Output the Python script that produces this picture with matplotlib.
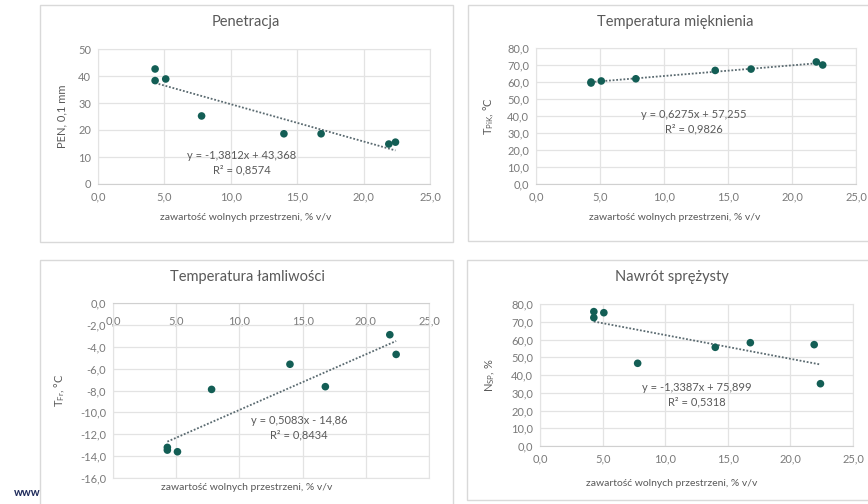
import matplotlib
matplotlib.use("Agg")
import matplotlib.pyplot as plt
from matplotlib.patches import Rectangle
from matplotlib.ticker import FuncFormatter, MultipleLocator
import numpy as np

plt.rcParams['font.family'] = ['Lato', 'DejaVu Sans']

# ---- data ----
void_content = [4.3, 4.3, 5.1, 7.8, 14.0, 16.8, 21.9, 22.4]
penetration = [42.6, 38.3, 38.9, 25.2, 18.6, 18.6, 14.8, 15.5]
softening_temp = [59.4, 60.0, 60.6, 61.9, 66.8, 67.6, 71.8, 70.0]
fraass_temp = [-13.2, -13.45, -13.6, -7.9, -5.6, -7.65, -2.9, -4.7]
elastic_recovery = [75.7, 72.3, 75.1, 46.6, 55.6, 58.2, 57.1, 35.1]

titles = ["Penetracja", "Temperatura mięknienia", "Temperatura łamliwości", "Nawrót sprężysty"]
ylabels = ["PEN, 0,1 mm", r"T$_\mathregular{PiK}$, °C", r"T$_\mathregular{Fr}$, °C", r"N$_\mathregular{SP}$, %"]
xlabel = "zawartość wolnych przestrzeni, % v/v"
trend_slopes = [-1.3812, 0.6275, 0.5083, -1.3387]
trend_intercepts = [43.368, 57.255, -14.86, 75.899]
equations = ["y = -1,3812x + 43,368", "y = 0,6275x + 57,255", "y = 0,5083x - 14,86", "y = -1,3387x + 75,899"]
r2_labels = ["R² = 0,8574", "R² = 0,9826", "R² = 0,8434", "R² = 0,5318"]

W, H = 868, 504
fig = plt.figure(figsize=(W / 100, H / 100), dpi=100)
fig.patch.set_facecolor("white")

def frect(l, t, r, b):
    return [l / W, 1 - b / H, (r - l) / W, (b - t) / H]

# "www" text partly hidden behind panel
fig.text(14 / W, 1 - 492 / H, "www.", fontsize=8, color="#1f2b5b", fontweight="bold",
         va="center", ha="left", zorder=0)

# panel frames (pixels: l, t, r, b)
frames = [(40, 5, 453, 242), (468, 5, 875, 241), (40, 260, 453, 510), (467, 260, 875, 500)]
for (l, t, r, b) in frames:
    fig.patches.append(Rectangle((l / W, 1 - b / H), (r - l) / W, (b - t) / H,
                                 transform=fig.transFigure, facecolor="white",
                                 edgecolor="#d9d9d9", linewidth=1.0, zorder=1))

axes_rects = [(98, 49, 430, 184), (536, 48, 856, 184), (113, 303, 429, 478), (540, 304, 853, 446)]
ylims = [(0, 50), (0, 80), (-16, 0), (0, 80)]
ysteps = [10, 10, 2, 10]
yfmt = [lambda v, p: f"{v:.0f}",
        lambda v, p: f"{v:.1f}".replace(".", ","),
        lambda v, p: f"{v:.1f}".replace(".", ","),
        lambda v, p: f"{v:.1f}".replace(".", ",")]
series = [penetration, softening_temp, fraass_temp, elastic_recovery]
text_pos = [(10.8, 8.0), (12.3, 36.5), (14.7, -11.4), (12.5, 29.0)]
title_centers = [246, 675, 247, 672]
title_y = [22, 22, 277, 277]
xlabel_y = [218, 218, 488, 483]
ylabel_x = [62, 489, 60, 490]

mcolor = "#135e55"
tick_color = "#7a7a7a"
text_color = "#595959"
grid_color = "#e3e3e3"

for i in range(4):
    ax = fig.add_axes(frect(*axes_rects[i]), zorder=2)
    ax.set_facecolor("none")
    ax.set_xlim(0, 25)
    ax.set_ylim(*ylims[i])
    ax.xaxis.set_major_locator(MultipleLocator(5))
    ax.yaxis.set_major_locator(MultipleLocator(ysteps[i]))
    ax.xaxis.set_major_formatter(FuncFormatter(lambda v, p: f"{v:.1f}".replace(".", ",")))
    ax.yaxis.set_major_formatter(FuncFormatter(yfmt[i]))
    ax.grid(True, color=grid_color, linewidth=0.9)
    ax.set_axisbelow(True)
    for s in ax.spines.values():
        s.set_color("#e3e3e3")
        s.set_linewidth(0.8)
    ax.tick_params(length=0, labelsize=8, colors=tick_color, pad=5)
    if i == 2:
        ax.spines["top"].set_color("#d0d0d0")
        ax.tick_params(axis="x", top=False, bottom=False, labeltop=True, labelbottom=False, pad=-17)
        for lab in ax.get_xticklabels():
            lab.set_va("bottom")
    else:
        ax.spines["bottom"].set_color("#d0d0d0")

    x = np.array(void_content)
    ax.scatter(x, series[i], s=30, color=mcolor, zorder=3, edgecolors="none")
    xs = np.array([x.min(), x.max()])
    ax.plot(xs, trend_slopes[i] * xs + trend_intercepts[i], linestyle=(0, (1, 1)),
            color="#5a6a70", linewidth=1.3, zorder=2.5)
    ax.text(text_pos[i][0], text_pos[i][1], equations[i] + "\n" + r2_labels[i],
            ha="center", va="center", fontsize=8, color=text_color, linespacing=1.35)

    cx = title_centers[i]
    fig.text(cx / W, 1 - title_y[i] / H, titles[i], ha="center", va="center",
             fontsize=10.5, color=text_color, zorder=3)
    fig.text(cx / W, 1 - xlabel_y[i] / H, xlabel, ha="center", va="center",
             fontsize=7.5, color=text_color, zorder=3)
    ycen = (axes_rects[i][1] + axes_rects[i][3]) / 2
    fig.text(ylabel_x[i] / W, 1 - ycen / H, ylabels[i], ha="center", va="center",
             rotation=90, fontsize=8, color=text_color, zorder=3)

fig.savefig("out.png", dpi=100, facecolor="white")
